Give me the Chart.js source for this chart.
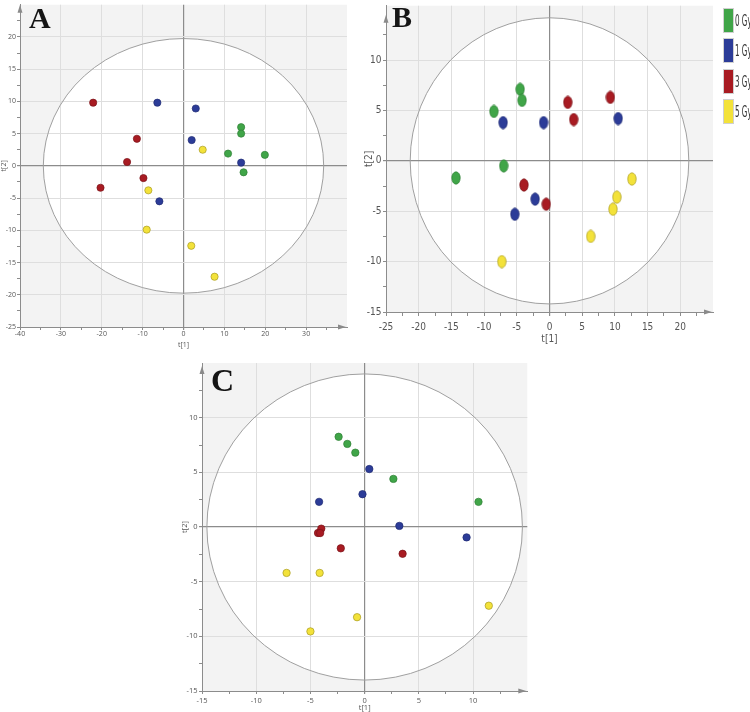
<!DOCTYPE html>
<html>
<head>
<meta charset="utf-8">
<script src="https://cdn.jsdelivr.net/npm/chart.js@4.4.0/dist/chart.umd.min.js"></script>
<style>
  body { margin: 0; width: 750px; height: 712px; overflow: hidden; background: #fff; position: relative; }
  .caja { position: absolute; }
  .letra { position: absolute; font: bold 30px 'Liberation Serif', serif; line-height: 30px; color: #151515; }
  .leyenda { position: absolute; left: 723px; width: 60px; height: 25px; display: flex; align-items: center; }
  .leyenda span.cuadro { flex: 0 0 11px; height: 25px; border: 1px solid #d0d0d0; box-sizing: border-box; margin-right: 1px; }
  .leyenda span.texto { flex: 0 0 auto; display: inline-block; font: 16px 'Liberation Sans Narrow', 'DejaVu Sans Condensed', sans-serif; color: #333; white-space: nowrap; transform: scaleX(0.5); transform-origin: left center; }
</style>
</head>
<body>
<div class="caja" style="left:0;top:0;width:352px;height:352px"><canvas id="graficaA"></canvas></div>
<div class="caja" style="left:360px;top:0;width:390px;height:350px"><canvas id="graficaB"></canvas></div>
<div class="caja" style="left:170px;top:355px;width:362px;height:357px"><canvas id="graficaC"></canvas></div>
<div class="letra" style="left:29px;top:3px">A</div>
<div class="letra" style="left:392px;top:2px">B</div>
<div class="letra" style="left:211px;top:365px;font-size:32px">C</div>
<div id="leyenda"></div>
<script>
// Grupos
const grupos = ['0 Gy', '1 Gy', '3 Gy', '5 Gy'];
const colores = ['#40a548', '#2c3c98', '#a81b22', '#f3e23a'];
const bordes = ['#2f7f36', '#1f2b72', '#7a1218', '#a89b22'];

// Panel A (t[1], t[2])
const a0Gy = [[14.1, 6.0], [14.1, 5.0], [10.9, 1.9], [19.9, 1.7], [14.7, -1.0]];
const a1Gy = [[-6.4, 9.8], [3.0, 8.9], [2.0, 4.0], [14.1, 0.5], [-5.9, -5.5]];
const a3Gy = [[-22.1, 9.8], [-11.4, 4.2], [-13.8, 0.6], [-9.8, -1.9], [-20.3, -3.4]];
const a5Gy = [[4.7, 2.5], [-8.6, -3.8], [-9.0, -9.9], [1.9, -12.4], [7.6, -17.2]];

// Panel B
const b0Gy = [[-4.5, 7.1], [-4.2, 6.0], [-8.5, 4.9], [-7.0, -0.5], [-14.3, -1.7]];
const b1Gy = [[-7.1, 3.8], [-0.9, 3.8], [10.5, 4.2], [-2.2, -3.8], [-5.3, -5.3]];
const b3Gy = [[2.8, 5.8], [3.7, 4.1], [9.3, 6.3], [-3.9, -2.4], [-0.5, -4.3]];
const b5Gy = [[12.6, -1.8], [10.3, -3.6], [9.7, -4.8], [6.3, -7.5], [-7.3, -10.0]];

// Panel C
const c0Gy = [[-2.4, 8.25], [-1.6, 7.6], [-0.86, 6.8], [2.65, 4.4], [10.5, 2.3]];
const c1Gy = [[0.43, 5.3], [-0.2, 3.0], [-4.2, 2.3], [3.2, 0.1], [9.4, -0.95]];
const c3Gy = [[-4.0, -0.15], [-4.3, -0.55], [-4.1, -0.55], [-2.2, -1.95], [3.5, -2.45]];
const c5Gy = [[-7.2, -4.2], [-4.15, -4.2], [11.45, -7.2], [-0.7, -8.25], [-5.0, -9.55]];

// Ticks
const aXTicks = [-40, -35, -30, -25, -20, -15, -10, -5, 0, 5, 10, 15, 20, 25, 30, 35];
const aXLabels = [-40, -30, -20, -10, 0, 10, 20, 30];
const aYTicks = [-25, -22.5, -20, -17.5, -15, -12.5, -10, -7.5, -5, -2.5, 0, 2.5, 5, 7.5, 10, 12.5, 15, 17.5, 20, 22.5];
const aYLabels = [-25, -20, -15, -10, -5, 0, 5, 10, 15, 20];
const bXTicks = [-25, -22.5, -20, -17.5, -15, -12.5, -10, -7.5, -5, -2.5, 0, 2.5, 5, 7.5, 10, 12.5, 15, 17.5, 20, 22.5];
const bXLabels = [-25, -20, -15, -10, -5, 0, 5, 10, 15, 20];
const bYTicks = [-15, -12.5, -10, -7.5, -5, -2.5, 0, 2.5, 5, 7.5, 10, 12.5];
const bYLabels = [-15, -10, -5, 0, 5, 10];
const cXTicks = [-15, -12.5, -10, -7.5, -5, -2.5, 0, 2.5, 5, 7.5, 10, 12.5];
const cXLabels = [-15, -10, -5, 0, 5, 10];
const cYTicks = [-15, -12.5, -10, -7.5, -5, -2.5, 0, 2.5, 5, 7.5, 10, 12.5];
const cYLabels = [-15, -10, -5, 0, 5, 10];

// fondo gris, elipse blanca, flechas
const fondo = {
  id: 'fondo',
  beforeDraw(chart, args, opts) {
    const {ctx, chartArea: a, scales: {x, y}} = chart;
    ctx.save();
    ctx.fillStyle = '#f3f3f3';
    ctx.fillRect(a.left, a.top, a.right - a.left, a.bottom - a.top);
    const cx = x.getPixelForValue(0), cy = y.getPixelForValue(0);
    ctx.beginPath();
    ctx.ellipse(cx, cy, x.getPixelForValue(opts.rx) - cx, cy - y.getPixelForValue(opts.ry), 0, 0, Math.PI * 2);
    ctx.fillStyle = '#fff';
    ctx.fill();
    ctx.restore();
  },
  beforeDatasetsDraw(chart, args, opts) {
    const {ctx, chartArea: a, scales: {x, y}} = chart;
    const cx = x.getPixelForValue(0), cy = y.getPixelForValue(0);
    ctx.save();
    ctx.beginPath();
    ctx.ellipse(cx, cy, x.getPixelForValue(opts.rx) - cx, cy - y.getPixelForValue(opts.ry), 0, 0, Math.PI * 2);
    ctx.strokeStyle = '#a0a0a0';
    ctx.lineWidth = 1;
    ctx.stroke();
    ctx.fillStyle = '#8a8a8a';
    const t = a.top + opts.flecha;
    ctx.beginPath();
    ctx.moveTo(a.left, t); ctx.lineTo(a.left - 2.5, t + 8); ctx.lineTo(a.left + 2.5, t + 8); ctx.closePath();
    ctx.fill();
    ctx.beginPath();
    ctx.moveTo(a.right - 1, a.bottom); ctx.lineTo(a.right - 9, a.bottom - 2.5); ctx.lineTo(a.right - 9, a.bottom + 2.5); ctx.closePath();
    ctx.fill();
    ctx.restore();
  }
};

// puntos elipticos del panel B
function ovalo(i) {
  const c = document.createElement('canvas');
  c.width = 10; c.height = 14;
  const g = c.getContext('2d');
  g.beginPath();
  g.ellipse(5, 7, 4.2, 6.2, 0, 0, Math.PI * 2);
  g.fillStyle = colores[i];
  g.fill();
  g.strokeStyle = bordes[i];
  g.lineWidth = 0.7;
  g.stroke();
  return c;
}

function eje(ticks, labels, conf) {
  return {
    type: 'linear',
    min: conf.min,
    max: conf.max,
    afterBuildTicks: s => { s.ticks = ticks.map(v => ({value: v})); },
    afterFit: s => {
      if (conf.ancho) { s.width = conf.ancho; s.paddingTop = 0; s.paddingBottom = 0; }
      if (conf.alto) { s.height = conf.alto; s.paddingLeft = 0; s.paddingRight = 0; }
    },
    grid: {
      color: c => c.tick.value === 0 ? '#8c8c8c' : (labels.includes(c.tick.value) ? '#dedede' : 'rgba(0,0,0,0)'),
      lineWidth: c => c.tick.value === 0 ? 1.2 : 1,
      tickColor: '#8c8c8c',
      tickLength: conf.tickLength
    },
    border: { color: '#8c8c8c', width: 1 },
    ticks: {
      autoSkip: false,
      maxRotation: 0,
      padding: conf.padding,
      color: '#555',
      font: conf.font,
      callback: v => labels.includes(v) ? String(v) : ''
    },
    title: {
      display: true,
      text: conf.titulo,
      color: '#555',
      font: conf.font,
      padding: conf.tituloPad
    }
  };
}

function panel(id, datos, conf) {
  const ctx = document.getElementById(id);
  return new Chart(ctx, {
    type: 'scatter',
    data: {
      datasets: datos.map((d, i) => ({
        label: grupos[i],
        data: d.map(p => ({x: p[0], y: p[1]})),
        backgroundColor: colores[i],
        borderColor: bordes[i],
        borderWidth: 0.7,
        pointRadius: conf.radio,
        pointStyle: conf.ovalos ? ovalo(i) : 'circle'
      }))
    },
    options: {
      responsive: true,
      maintainAspectRatio: false,
      animation: false,
      events: [],
      layout: { padding: conf.pad },
      scales: { x: conf.x, y: conf.y },
      plugins: {
        legend: { display: false },
        tooltip: { enabled: false },
        fondo: conf.elipse
      }
    },
    plugins: [fondo]
  });
}

const fuenteA = { size: 7, family: 'Open Sans, sans-serif' };
const fuenteB = { size: 10, family: 'Liberation Sans Narrow, DejaVu Sans Condensed, sans-serif' };
const fuenteC = { size: 7.5, family: 'Open Sans, sans-serif' };

panel('graficaA', [a0Gy, a1Gy, a3Gy, a5Gy], {
  radio: 3.6,
  pad: { top: 0, right: 5, bottom: 0, left: 0 },
  elipse: { rx: 34.3, ry: 19.75, flecha: 0 },
  x: eje(aXTicks, aXLabels, { min: -40, max: 40, alto: 25, tickLength: 3, padding: 0, font: fuenteA, titulo: 't[1]', tituloPad: { top: 0, bottom: 3 } }),
  y: eje(aYTicks, aYLabels, { min: -25, max: 25, ancho: 20, tickLength: 3, padding: 1, font: fuenteA, titulo: 't[2]', tituloPad: { top: 0, bottom: 0 } })
});

panel('graficaB', [b0Gy, b1Gy, b3Gy, b5Gy], {
  radio: 5,
  ovalos: true,
  pad: { top: 1, right: 37, bottom: 0, left: 0 },
  elipse: { rx: 21.3, ry: 14.2, flecha: 9 },
  x: eje(bXTicks, bXLabels, { min: -25, max: 25, alto: 38, tickLength: 4, padding: 5, font: fuenteB, titulo: 't[1]', tituloPad: { top: 0, bottom: 5 } }),
  y: eje(bYTicks, bYLabels, { min: -15, max: 15.4, ancho: 26, tickLength: 3, padding: 1.5, font: fuenteB, titulo: 't[2]', tituloPad: { top: 3, bottom: 0 } })
});

panel('graficaC', [c0Gy, c1Gy, c3Gy, c5Gy], {
  radio: 3.7,
  pad: { top: 8, right: 4, bottom: 0, left: 0 },
  elipse: { rx: 14.55, ry: 14.0, flecha: 3 },
  x: eje(cXTicks, cXLabels, { min: -15, max: 15, alto: 21, tickLength: 3, padding: 2, font: fuenteC, titulo: 't[1]', tituloPad: { top: 0, bottom: 0 } }),
  y: eje(cYTicks, cYLabels, { min: -15, max: 15, ancho: 32, tickLength: 3, padding: 1.5, font: fuenteC, titulo: 't[2]', tituloPad: { top: 10, bottom: 0 } })
});

// leyenda
const leyenda = document.getElementById('leyenda');
grupos.forEach((g, i) => {
  const fila = document.createElement('div');
  fila.className = 'leyenda';
  fila.style.top = (7.5 + i * 30.5) + 'px';
  fila.innerHTML = '<span class="cuadro" style="background:' + colores[i] + '"></span><span class="texto">' + g + '</span>';
  leyenda.appendChild(fila);
});
</script>
</body>
</html>
